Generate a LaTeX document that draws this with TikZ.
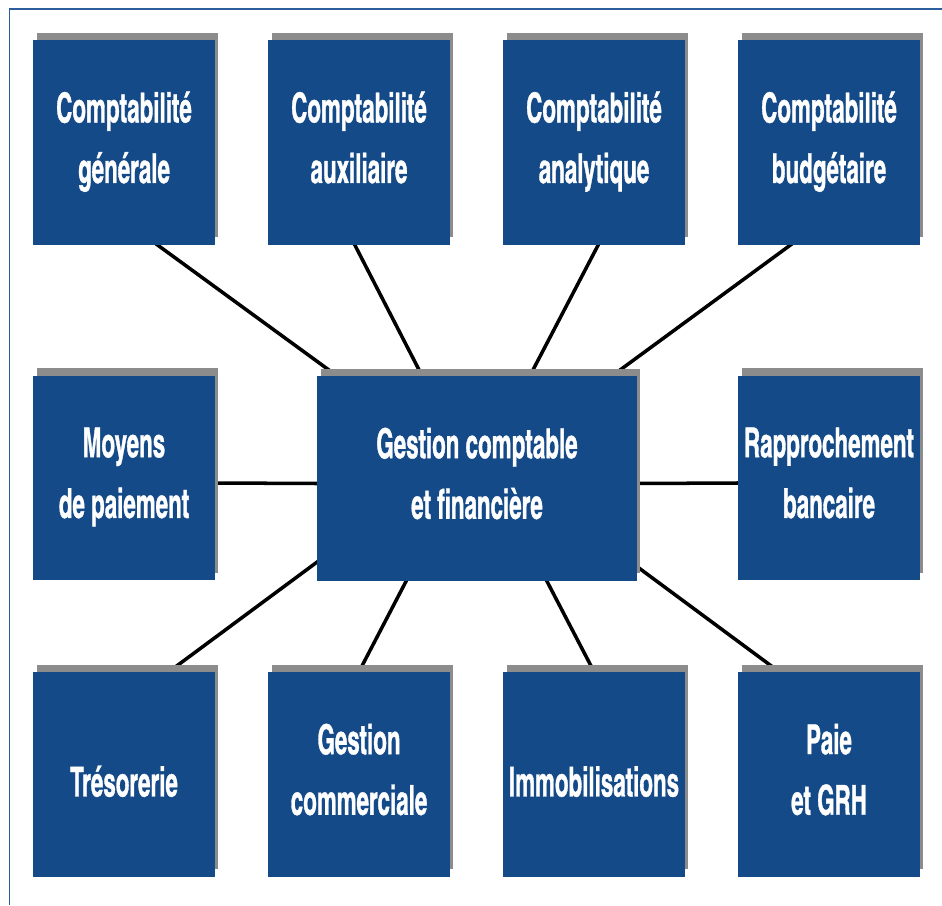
\documentclass[tikz,border=0pt]{standalone}
\usepackage{fontspec}
\newfontfamily\boxfont[FakeStretch=0.66, FakeBold=0.8]{texgyreheroscn-bold.otf}
\usetikzlibrary{shadows, backgrounds}
\definecolor{boxblue}{HTML}{134A87}
\definecolor{shadowgray}{HTML}{8C8C8C}
\definecolor{frameblue}{HTML}{2A5E9C}
\tikzset{
  modbox/.style={
    rectangle, minimum width=3.64cm, minimum height=4.1cm,
    align=center, font=\boxfont\fontsize{23.5}{34.5}\selectfont,
    fill=boxblue, text=white, inner sep=0pt,
    execute at begin node={\rule{0pt}{31pt}},
    execute at end node={\rule[-6pt]{0pt}{6pt}},
    drop shadow={shadow xshift=0.07cm, shadow yshift=0.15cm,
                 fill=shadowgray, opacity=1}
  },
  hubbox/.style={modbox, minimum width=6.4cm},
  link/.style={line width=2pt, black, shorten <=-2pt, shorten >=-2pt},
  frameline/.style={line width=0.04cm, frameblue},
}

\begin{document}
\begin{tikzpicture}[x=0.02cm, y=-0.02cm]
      \useasboundingbox (0,0) rectangle (942,905);
      \draw[frameline] (9.5,905) -- (9.5,9.5) -- (942,9.5);
      \node[modbox](cg) at(124,142.5){Comptabilité\\générale};
      \node[modbox](ca) at(359,142.5){Comptabilité\\auxiliaire};
      \node[modbox](can)at(594,142.5){Comptabilité\\analytique};
      \node[modbox](cb) at(829,142.5){Comptabilité\\budgétaire};
      \node[modbox](mp) at(124,478)  {Moyens\\de paiement};
      \node[hubbox](gcf)at(477,478.5){Gestion comptable\\et financière};
      \node[modbox](rb) at(829,478)  {Rapprochement\\bancaire};
      \node[modbox](tr) at(124,774.5){Trésorerie};
      \node[modbox](gc) at(359,774.5){Gestion\\commerciale};
      \node[modbox](im) at(594,774.5){Immobilisations};
      \node[modbox](pg) at(829,774.5){Paie\\et GRH};
      \begin{scope}[on background layer]
      \draw[link]([xshift=0.68cm]cg.south)--([xshift=0.4cm]gcf.north west);
      \draw[link]([xshift=-0.08cm]ca.south)--([xshift=-1.1cm]gcf.north);
      \draw[link]([xshift=0.08cm]can.south)--([xshift=1.06cm]gcf.north);
      \draw[link]([xshift=-0.78cm]cb.south)--([xshift=-0.5cm]gcf.north east);
      \draw[link]([yshift=-0.1cm]mp.east)--([yshift=-0.1cm]gcf.west);
      \draw[link]([yshift=-0.1cm]gcf.east)--([yshift=-0.1cm]rb.west);
      \draw[link]([yshift=0.38cm]gcf.south west)--([xshift=0.9cm]tr.north);
      \draw[link]([xshift=-1.42cm]gcf.south)--(gc.north);
      \draw[link]([xshift=1.4cm]gcf.south)--(im.north);
      \draw[link]([yshift=0.29cm]gcf.south east)--([xshift=-1cm]pg.north);
      \end{scope}
    \end{tikzpicture}
\end{document}
